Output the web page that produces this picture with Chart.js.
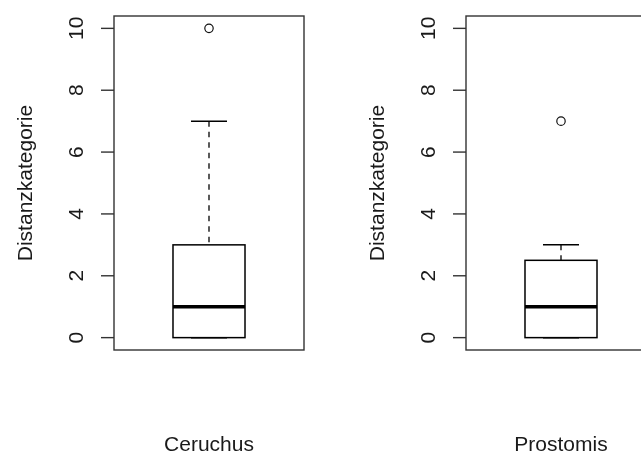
<!DOCTYPE html>
<html>
<head>
<meta charset="utf-8">
<title>Distanzkategorie</title>
<script src="https://cdn.jsdelivr.net/npm/chart.js@4/dist/chart.umd.min.js"></script>
<style>
  html, body { margin: 0; padding: 0; background: #ffffff; overflow: hidden; }
  #wrap { position: relative; width: 641px; height: 452px; overflow: hidden; background: #ffffff; }
  #wrap canvas { position: absolute; top: 0; }
</style>
</head>
<body>
<div id="wrap">
  <canvas id="panel0" width="352" height="452" style="left:0px"></canvas>
  <canvas id="panel1" width="352" height="452" style="left:352px"></canvas>
</div>
<script>
// Five-number summaries per group (one panel each)
const groups = ['Ceruchus', 'Prostomis'];
const lowerWhisker = [0, 0];
const lowerQuartile = [0, 0];
const medians = [1, 1];
const upperQuartile = [3, 2.5];
const upperWhisker = [7, 3];
const outliers = [[10], [7]];

// Axis
const yTicks = [0, 2, 4, 6, 8, 10];
const yTitle = 'Distanzkategorie';
const yMin = -0.4;
const yMax = 10.4;

const FONT = '21px "Liberation Sans", Arial, Helvetica, sans-serif';
const INK = '#1a1a1a';

function seg(ctx, x1, y1, x2, y2) {
  ctx.beginPath();
  ctx.moveTo(x1, y1);
  ctx.lineTo(x2, y2);
  ctx.stroke();
}

// Box outline centred on the quartile pixels, median bar, dashed whiskers and staples
const boxParts = {
  id: 'boxParts',
  afterDatasetsDraw(chart, args, opts) {
    const i = opts.group;
    const ys = chart.scales.y;
    const ctx = chart.ctx;
    const yp = v => ys.getPixelForValue(v);
    chart.getDatasetMeta(0).data.forEach(bar => {
      const cx = bar.x;
      const half = bar.width / 2;
      ctx.save();
      ctx.strokeStyle = '#000';
      ctx.lineCap = 'butt';
      // whiskers
      ctx.lineWidth = 1.3;
      ctx.setLineDash([5.5, 5]);
      seg(ctx, cx, yp(upperWhisker[i]), cx, yp(upperQuartile[i]));
      seg(ctx, cx, yp(lowerWhisker[i]), cx, yp(lowerQuartile[i]));
      ctx.setLineDash([]);
      // staples
      ctx.lineWidth = 1.5;
      seg(ctx, cx - half / 2, yp(upperWhisker[i]), cx + half / 2, yp(upperWhisker[i]));
      seg(ctx, cx - half / 2, yp(lowerWhisker[i]), cx + half / 2, yp(lowerWhisker[i]));
      // box outline
      ctx.lineWidth = 1.5;
      ctx.strokeRect(cx - half, bar.y, bar.width, bar.base - bar.y);
      // median
      ctx.lineWidth = 3.6;
      seg(ctx, cx - half, yp(medians[i]), cx + half, yp(medians[i]));
      ctx.restore();
    });
  }
};

// Frame, y ticks with rotated labels, y title and group name underneath
const frameAxes = {
  id: 'frameAxes',
  afterDraw(chart, args, opts) {
    const i = opts.group;
    const { left, top, right, bottom } = chart.chartArea;
    const ys = chart.scales.y;
    const ctx = chart.ctx;
    ctx.save();
    ctx.strokeStyle = '#333';
    ctx.lineWidth = 1.4;
    ctx.strokeRect(left, top, right - left, bottom - top);

    ctx.fillStyle = INK;
    ctx.font = FONT;
    ctx.textAlign = 'center';
    ctx.textBaseline = 'alphabetic';
    yTicks.forEach(v => {
      const py = ys.getPixelForValue(v);
      ctx.strokeStyle = '#333';
      ctx.lineWidth = 1.4;
      seg(ctx, left - 13, py, left, py);
      ctx.save();
      ctx.translate(left - 31, py);
      ctx.rotate(-Math.PI / 2);
      ctx.fillText(String(v), 0, 0);
      ctx.restore();
    });

    ctx.save();
    ctx.translate(left - 82, (top + bottom) / 2);
    ctx.rotate(-Math.PI / 2);
    ctx.fillText(yTitle, 0, 0);
    ctx.restore();

    ctx.fillText(groups[i], (left + right) / 2, bottom + 100.5);
    ctx.restore();
  }
};

groups.forEach((name, i) => {
  new Chart(document.getElementById('panel' + i), {
    type: 'bar',
    data: {
      labels: [name],
      datasets: [
        {
          data: [[lowerQuartile[i], upperQuartile[i]]],
          backgroundColor: '#ffffff',
          borderWidth: 0,
          barPercentage: 0.379,
          categoryPercentage: 1.0,
          order: 2
        },
        {
          type: 'line',
          data: outliers[i],
          showLine: false,
          pointStyle: 'circle',
          pointRadius: 4.2,
          pointBorderWidth: 1.2,
          pointBorderColor: '#111111',
          pointBackgroundColor: 'rgba(0,0,0,0)',
          order: 1
        }
      ]
    },
    options: {
      responsive: false,
      animation: false,
      events: [],
      layout: { padding: { left: 114, top: 16, right: 48, bottom: 102 } },
      scales: {
        x: { display: false, offset: true },
        y: { display: false, min: yMin, max: yMax, ticks: { stepSize: 2 } }
      },
      plugins: {
        legend: { display: false },
        tooltip: { enabled: false },
        boxParts: { group: i },
        frameAxes: { group: i }
      }
    },
    plugins: [boxParts, frameAxes]
  });
});
</script>
</body>
</html>
